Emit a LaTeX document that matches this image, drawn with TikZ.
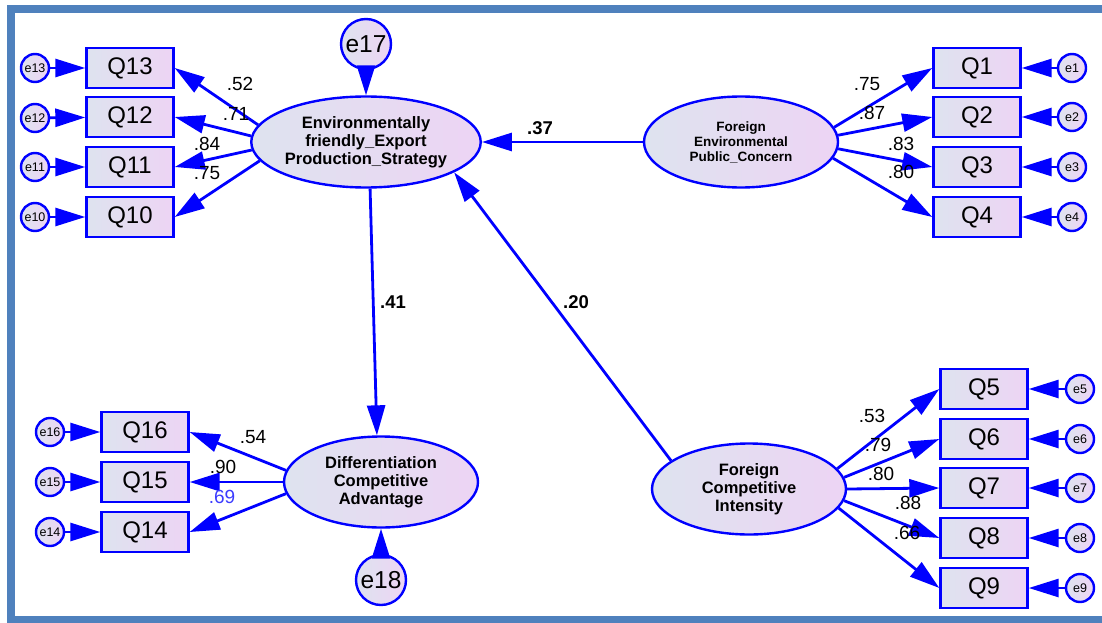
\documentclass[tikz,border=0pt]{standalone}
\usepackage{fontspec}
\setmainfont{Liberation Sans}
\usetikzlibrary{arrows.meta,shapes.geometric}

\definecolor{amosblue}{RGB}{0,0,255}
\definecolor{frameblue}{RGB}{79,129,189}
\definecolor{shadeL}{RGB}{222,227,239}
\definecolor{shadeR}{RGB}{237,212,244}
\definecolor{labblue}{RGB}{60,60,255}

\begin{document}
\begin{tikzpicture}[x=1pt,y=-1pt]
  \useasboundingbox (0,0) rectangle (1102,623);
  \tikzset{
    latentvar/.style = {ellipse, draw=amosblue, line width=2.4pt, left color=shadeL, right color=shadeR,
      minimum width=194pt, minimum height=91pt, inner sep=0pt, align=center,
      font=\fontsize{16.5}{18}\selectfont\bfseries},
    obsvar/.style = {rectangle, draw=amosblue, line width=2.4pt, left color=shadeL, right color=shadeR,
      minimum width=87pt, minimum height=40pt, inner sep=0pt, font=\fontsize{24}{26}\selectfont},
    errvar/.style = {circle, draw=amosblue, line width=2.4pt, left color=shadeL, right color=shadeR,
      minimum size=28pt, inner sep=0pt, font=\fontsize{12.5}{13}\selectfont},
    bigerrvar/.style = {errvar, minimum size=50pt, font=\fontsize{24.5}{26}\selectfont},
    regarrow/.style = {draw=amosblue, line width=2.8pt, -{Triangle[length=30pt,width=18pt]}},
    loadlabel/.style = {inner sep=0pt, font=\fontsize{19}{20}\selectfont},
    coeflabel/.style = {inner sep=0pt, font=\fontsize{18.5}{20}\selectfont\bfseries}
  }

  % Frame
  \draw[frameblue, line width=8pt] (1102,9) -- (11,9) -- (11,619.5) -- (1102,619.5);

  % Latent variables
  \node[latentvar] (EPS) at (366,142) {Environmentally\\friendly\_Export\\Production\_Strategy};
  \node[latentvar, font=\fontsize{13.5}{15}\selectfont\bfseries] (FEPC) at (741,142) {Foreign\\Environmental\\Public\_Concern};
  \node[latentvar] (DCA) at (381,482) {Differentiation\\Competitive\\Advantage};
  \node[latentvar] (FCI) at (749,489) {Foreign\\Competitive\\Intensity};

  % Observed variables
  \node[obsvar] (Q13) at (130,68) {Q13};
  \node[obsvar] (Q12) at (130,117) {Q12};
  \node[obsvar] (Q11) at (130,167) {Q11};
  \node[obsvar] (Q10) at (130,217) {Q10};
  \node[obsvar] (Q1) at (977,68) {Q1};
  \node[obsvar] (Q2) at (977,117) {Q2};
  \node[obsvar] (Q3) at (977,167) {Q3};
  \node[obsvar] (Q4) at (977,217) {Q4};
  \node[obsvar] (Q16) at (145,432) {Q16};
  \node[obsvar] (Q15) at (145,482) {Q15};
  \node[obsvar] (Q14) at (145,532) {Q14};
  \node[obsvar] (Q5) at (984,389) {Q5};
  \node[obsvar] (Q6) at (984,439) {Q6};
  \node[obsvar] (Q7) at (984,488) {Q7};
  \node[obsvar] (Q8) at (984,538) {Q8};
  \node[obsvar] (Q9) at (984,588) {Q9};

  % Errors
  \node[errvar] (e13) at (35,68) {e13};
  \node[errvar] (e12) at (35,118) {e12};
  \node[errvar] (e11) at (35,167) {e11};
  \node[errvar] (e10) at (35,217) {e10};
  \node[errvar] (e1) at (1072,68) {e1};
  \node[errvar] (e2) at (1072,117) {e2};
  \node[errvar] (e3) at (1072,167) {e3};
  \node[errvar] (e4) at (1072,217) {e4};
  \node[errvar] (e16) at (50,432) {e16};
  \node[errvar] (e15) at (50,482) {e15};
  \node[errvar] (e14) at (50,532) {e14};
  \node[errvar] (e5) at (1080,389) {e5};
  \node[errvar] (e6) at (1080,439) {e6};
  \node[errvar] (e7) at (1080,488) {e7};
  \node[errvar] (e8) at (1080,538) {e8};
  \node[errvar] (e9) at (1080,588) {e9};
  \node[bigerrvar] (e17) at (366,44) {e17};
  \node[bigerrvar] (e18) at (381,580) {e18};

  % Error arrows
  \draw[regarrow] (e13) -- (Q13);
  \draw[regarrow] (e12) -- (Q12);
  \draw[regarrow] (e11) -- (Q11);
  \draw[regarrow] (e10) -- (Q10);
  \draw[regarrow] (e1) -- (Q1);
  \draw[regarrow] (e2) -- (Q2);
  \draw[regarrow] (e3) -- (Q3);
  \draw[regarrow] (e4) -- (Q4);
  \draw[regarrow] (e16) -- (Q16);
  \draw[regarrow] (e15) -- (Q15);
  \draw[regarrow] (e14) -- (Q14);
  \draw[regarrow] (e5) -- (Q5);
  \draw[regarrow] (e6) -- (Q6);
  \draw[regarrow] (e7) -- (Q7);
  \draw[regarrow] (e8) -- (Q8);
  \draw[regarrow] (e9) -- (Q9);
  \draw[regarrow] (e17) -- (EPS.north);
  \draw[regarrow] (e18) -- (DCA.south);

  % Loadings
  \draw[regarrow] (EPS.171) -- (Q13.east);
  \draw[regarrow] (EPS.177) -- (Q12.east);
  \draw[regarrow] (EPS.184) -- (Q11.east);
  \draw[regarrow] (EPS.190) -- (Q10.east);
  \draw[regarrow] (FEPC.9) -- (Q1.west);
  \draw[regarrow] (FEPC.4) -- (Q2.west);
  \draw[regarrow] (FEPC.-4) -- (Q3.west);
  \draw[regarrow] (FEPC.-10) -- (Q4.west);
  \draw[regarrow] (DCA.173) -- (Q16.east);
  \draw[regarrow] (DCA.180) -- (Q15.east);
  \draw[regarrow] (DCA.187) -- (Q14.east);
  \draw[regarrow] (FCI.13) -- (Q5.west);
  \draw[regarrow] (FCI.7) -- (Q6.west);
  \draw[regarrow] (FCI.0) -- (Q7.west);
  \draw[regarrow] (FCI.-7) -- (Q8.west);
  \draw[regarrow] (FCI.-12) -- (Q9.west);

  % Structural paths
  \draw[regarrow] (FEPC.west) -- (EPS.east);
  \draw[regarrow] (FCI.160) -- (EPS.-19);
  \draw[regarrow] (EPS.275) -- (DCA.95);

  % Labels
  \node[loadlabel] (w13) at (240,84) {.52};
  \node[loadlabel] (w12) at (236,114) {.71};
  \node[loadlabel] (w11) at (207,144) {.84};
  \node[loadlabel] (w10) at (207,173) {.75};
  \node[loadlabel] (w1) at (867,84) {.75};
  \node[loadlabel] (w2) at (872,113) {.87};
  \node[loadlabel] (w3) at (901,144) {.83};
  \node[loadlabel] (w4) at (901,172) {.80};
  \node[loadlabel] (w16) at (253,437) {.54};
  \node[loadlabel] (w15) at (223,467) {.90};
  \node[loadlabel, text=labblue] (w14) at (222,497) {.69};
  \node[loadlabel] (w5) at (872,416) {.53};
  \node[loadlabel] (w6) at (878,445) {.79};
  \node[loadlabel] (w7) at (881,474) {.80};
  \node[loadlabel] (w8) at (908,503) {.88};
  \node[loadlabel] (w9) at (907,533) {.66};
  \node[coeflabel] (b37) at (540,128) {.37};
  \node[coeflabel] (b41) at (393,302) {.41};
  \node[coeflabel] (b20) at (576,302) {.20};
\end{tikzpicture}
\end{document}
